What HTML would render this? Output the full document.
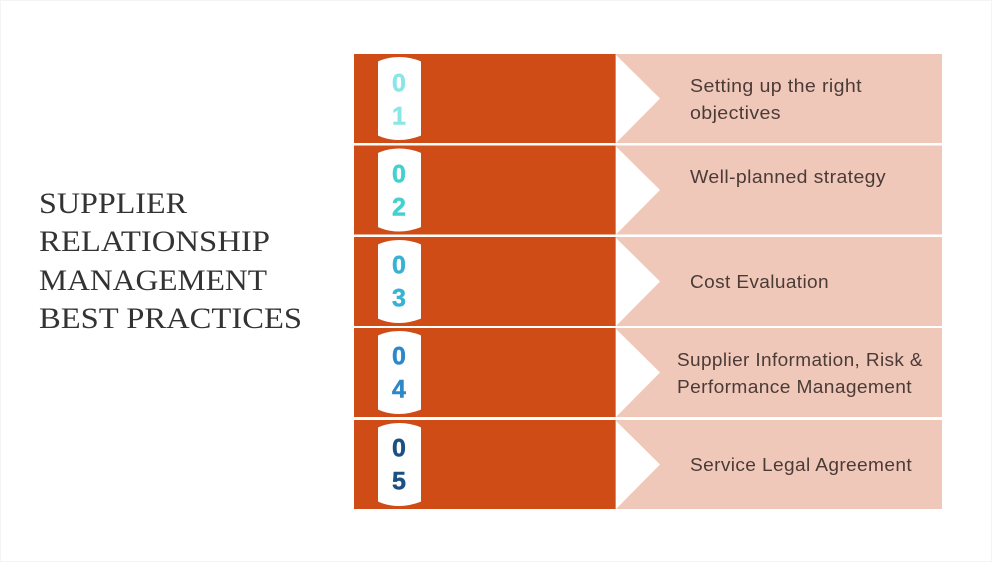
<!DOCTYPE html>
<html lang="en">
<head>
<meta charset="utf-8">
<title>Supplier Relationship Management Best Practices</title>
<style>
html,body{margin:0;padding:0;background:#fff;width:992px;height:562px;overflow:hidden}
svg{display:block}
.t{font-family:"Liberation Serif",serif;font-size:30px;fill:#333}
.b{font-family:"Liberation Sans",sans-serif;font-size:18px;letter-spacing:.35px;fill:#4b3b37}
.n{font-family:"Liberation Sans",sans-serif;font-size:25px;font-weight:bold;text-anchor:middle;stroke-width:.5px}
</style>
</head>
<body>
<svg width="992" height="562" viewBox="0 0 992 562" xmlns="http://www.w3.org/2000/svg">
<rect x="0.5" y="0.5" width="991" height="561" fill="#fff" stroke="#f4f4f4"/>

<defs>
<g id="row">
<rect x="354" y="0" width="261.5" height="89" fill="#d04c16"/>
<rect x="615.5" y="0" width="326.5" height="89" fill="#f0c8ba"/>
<polygon points="616,1 660,44.5 616,89" fill="#fff"/>
<path d="M379 8 Q399 0 420 8 V81 Q399 89 379 81 Z" fill="#fff" stroke="#fff" stroke-width="2" stroke-linejoin="round"/>
</g>
</defs>

<use href="#row" y="54"/>
<use href="#row" y="145.5"/>
<use href="#row" y="237"/>
<use href="#row" y="328"/>
<use href="#row" y="420"/>

<text class="n" x="399" y="91.5" fill="#8ae6e6" stroke="#8ae6e6">0</text>
<text class="n" x="399" y="124.5" fill="#8ae6e6" stroke="#8ae6e6">1</text>
<text class="n" x="399" y="182.5" fill="#45d0d0" stroke="#45d0d0">0</text>
<text class="n" x="399" y="215.5" fill="#45d0d0" stroke="#45d0d0">2</text>
<text class="n" x="399" y="273.5" fill="#38b2d2" stroke="#38b2d2">0</text>
<text class="n" x="399" y="306.5" fill="#38b2d2" stroke="#38b2d2">3</text>
<text class="n" x="399" y="364.5" fill="#2e88c8" stroke="#2e88c8">0</text>
<text class="n" x="399" y="397.5" fill="#2e88c8" stroke="#2e88c8">4</text>
<text class="n" x="399" y="456.5" fill="#1c4f82" stroke="#1c4f82">0</text>
<text class="n" x="399" y="489.5" fill="#1c4f82" stroke="#1c4f82">5</text>

<text class="t" x="39" y="213" textLength="148" lengthAdjust="spacingAndGlyphs">SUPPLIER</text>
<text class="t" x="39" y="251" textLength="231" lengthAdjust="spacingAndGlyphs">RELATIONSHIP</text>
<text class="t" x="39" y="290" textLength="228" lengthAdjust="spacingAndGlyphs">MANAGEMENT</text>
<text class="t" x="39" y="328" textLength="263" lengthAdjust="spacingAndGlyphs">BEST PRACTICES</text>

<text class="b" x="690" y="92" textLength="172" lengthAdjust="spacingAndGlyphs">Setting up the right</text>
<text class="b" x="690" y="119" textLength="91" lengthAdjust="spacingAndGlyphs">objectives</text>
<text class="b" x="690" y="183" textLength="196" lengthAdjust="spacingAndGlyphs">Well-planned strategy</text>
<text class="b" x="690" y="288" textLength="139" lengthAdjust="spacingAndGlyphs">Cost Evaluation</text>
<text class="b" x="677" y="366" textLength="246" lengthAdjust="spacingAndGlyphs">Supplier Information, Risk &amp;</text>
<text class="b" x="677" y="393" textLength="235" lengthAdjust="spacingAndGlyphs">Performance Management</text>
<text class="b" x="690" y="471" textLength="222" lengthAdjust="spacingAndGlyphs">Service Legal Agreement</text>
</svg>
</body>
</html>
